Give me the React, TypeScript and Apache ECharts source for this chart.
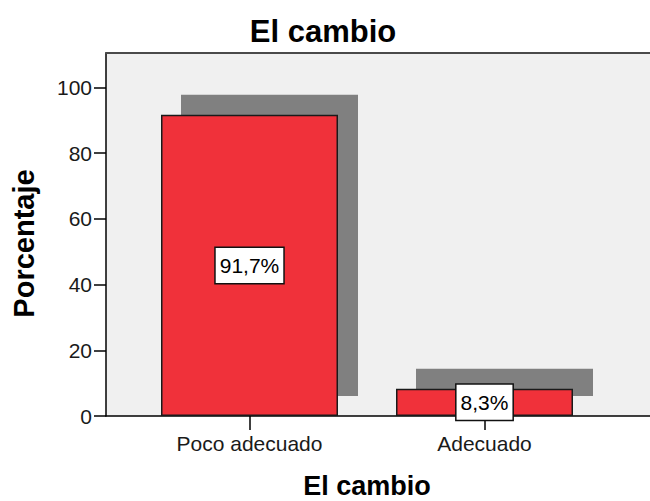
import React, { useEffect, useRef } from "react";
import * as echarts from "echarts";

const categories = ["Poco adecuado", "Adecuado"];
const percentages = [91.7, 8.3];
const yTicks = [0, 20, 40, 60, 80, 100];
const chartTitle = "El cambio";
const xAxisTitle = "El cambio";
const yAxisTitle = "Porcentaje";

const FONT = "Liberation Sans, Arial, sans-serif";

export default function App() {
  const ref = useRef<HTMLDivElement>(null);
  useEffect(() => {
    document.body.style.margin = "0";
    if (!ref.current) return;
    const chart = echarts.init(ref.current, undefined, { renderer: "svg" });
    const yMax = 110.5;
    const fmt = (v: number) => v.toFixed(1).replace(".", ",") + "%";
    chart.setOption({
      animation: false,
      textStyle: { fontFamily: FONT },
      title: {
        text: chartTitle,
        left: 318,
        textAlign: "center",
        top: 11,
        textStyle: { fontSize: 31, fontWeight: "bold", color: "#000", fontFamily: FONT },
      },
      grid: [
        { left: 106, top: 53, height: 363, width: 600, show: true, backgroundColor: "#f0f0f0", borderWidth: 0, outerBoundsMode: "none", containLabel: false },
        { left: 132, top: 53, height: 363, width: 470, outerBoundsMode: "none", containLabel: false },
        { left: 152, top: 33, height: 363, width: 470, outerBoundsMode: "none", containLabel: false },
      ],
      xAxis: [
        {
          gridIndex: 0, type: "value", min: 0, max: 1, position: "bottom",
          axisLine: { show: true, lineStyle: { color: "#000", width: 1.5 } },
          axisTick: { show: false }, axisLabel: { show: false }, splitLine: { show: false },
        },
        {
          gridIndex: 0, type: "value", min: 0, max: 1, position: "top",
          axisLine: { show: true, lineStyle: { color: "#4a4a4a", width: 2 } },
          axisTick: { show: false }, axisLabel: { show: false }, splitLine: { show: false },
        },
        {
          gridIndex: 1, type: "category", data: categories,
          axisLine: { show: false },
          axisTick: { show: true, alignWithLabel: true, length: 14, lineStyle: { color: "#000", width: 1.5 } },
          axisLabel: { fontSize: 21, margin: 17, color: "#1a1a1a", fontFamily: FONT },
          name: xAxisTitle, nameLocation: "middle", nameGap: 57,
          nameTextStyle: { fontSize: 27, lineHeight: 26, fontWeight: "bold", color: "#000", fontFamily: FONT },
        },
        {
          gridIndex: 2, type: "category", data: categories, show: false,
        },
      ],
      yAxis: [
        {
          gridIndex: 0, type: "value", min: 0, max: yMax, interval: 20,
          axisLine: { show: true, lineStyle: { color: "#000", width: 1.5 } },
          axisTick: { show: true, length: 12, customValues: yTicks, lineStyle: { color: "#000", width: 1.5 } },
          axisLabel: { fontSize: 21, margin: 14, color: "#1a1a1a", customValues: yTicks, fontFamily: FONT },
          splitLine: { show: false },
          name: yAxisTitle, nameLocation: "middle", nameRotate: 90, nameGap: 68,
          nameTextStyle: { fontSize: 29, fontWeight: "bold", color: "#000", fontFamily: FONT, padding: [0, 18, 0, 0] },
        },
        { gridIndex: 1, type: "value", min: 0, max: yMax, show: false },
        { gridIndex: 2, type: "value", min: 0, max: yMax, show: false },
      ],
      series: [
        {
          type: "bar", xAxisIndex: 3, yAxisIndex: 2, data: percentages, barWidth: 177, z: 1,
          itemStyle: { color: "#808080" }, silent: true,
        },
        {
          type: "bar", xAxisIndex: 2, yAxisIndex: 1, data: percentages, barWidth: 177, z: 3,
          itemStyle: { color: "#f0313a", borderColor: "#1a1a1a", borderWidth: 1.5 },
          label: {
            show: true, position: "inside",
            formatter: (p: any) => fmt(p.value),
            fontSize: 21, color: "#000", fontFamily: FONT,
            backgroundColor: "#fff", borderColor: "#111", borderWidth: 1.5,
            padding: [6, 4, 5, 4], lineHeight: 24,
          },
        },
      ],
    });
    return () => chart.dispose();
  }, []);
  return <div ref={ref} style={{ width: 650, height: 501 }} />;
}
